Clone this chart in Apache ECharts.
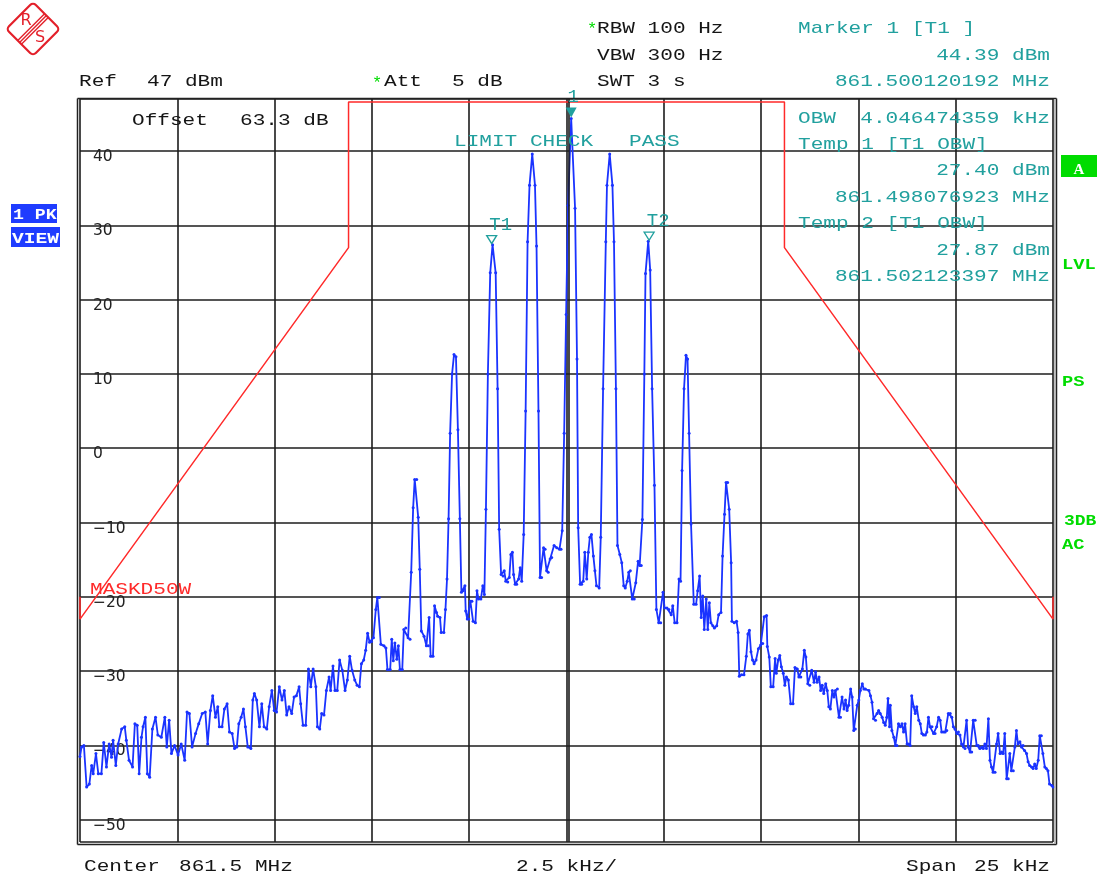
<!DOCTYPE html>
<html>
<head>
<meta charset="utf-8">
<script src="https://cdn.jsdelivr.net/npm/echarts@6/dist/echarts.min.js"></script>
<style>
  html, body { margin: 0; padding: 0; background: #fff; }
  #main { width: 1100px; height: 879px; }
</style>
</head>
<body>
<div id="main"></div>
<script>
// trace readings, [offset from centre in kHz, level in dBm]
const noiseLeft = [
  [-12.5,-41.5],[-12.46,-40.2],[-12.40,-40.0],[-12.33,-45.6],[-12.26,-45.2],[-12.20,-42.7],[-12.16,-43.8],[-12.09,-41.1],
  [-12.03,-43.8],[-11.95,-43.8],[-11.89,-39.6],[-11.82,-42.9],[-11.75,-39.8],[-11.69,-41.6],[-11.65,-39.3],[-11.58,-42.7],
  [-11.52,-39.8],[-11.43,-37.8],[-11.35,-37.5],[-11.31,-39.3],[-11.24,-42.0],[-11.15,-42.9],[-11.09,-37.1],[-11.03,-37.3],
  [-10.98,-43.8],[-10.92,-38.9],[-10.88,-37.5],[-10.82,-36.2],[-10.77,-43.8],[-10.71,-44.3],[-10.64,-37.8],[-10.56,-36.2],
  [-10.50,-38.6],[-10.41,-38.9],[-10.32,-36.2],[-10.27,-40.2],[-10.21,-36.6],[-10.15,-41.1],[-10.07,-40.0],[-9.98,-41.3],
  [-9.90,-39.8],[-9.81,-42.0],[-9.75,-35.5],[-9.69,-35.7],[-9.62,-40.2],[-9.53,-38.4],[-9.45,-37.1],[-9.36,-35.7],
  [-9.28,-35.5],[-9.22,-39.8],[-9.15,-35.3],[-9.09,-33.3],[-9.02,-36.2],[-8.96,-34.8],[-8.92,-37.5],[-8.85,-37.5],
  [-8.79,-35.1],[-8.72,-34.4],[-8.66,-38.2],[-8.59,-38.4],[-8.53,-40.4],[-8.47,-40.2],[-8.42,-37.1],[-8.36,-36.2],
  [-8.30,-35.1],[-8.25,-37.5],[-8.19,-40.2],[-8.11,-40.4],[-8.06,-33.9],[-8.02,-33.0],[-7.96,-33.9],[-7.89,-37.5],
  [-7.83,-34.4],[-7.77,-37.5],[-7.70,-37.8],[-7.64,-34.8],[-7.57,-32.6],[-7.51,-35.3],[-7.45,-35.5],[-7.38,-32.1],
  [-7.31,-33.9],[-7.25,-32.6],[-7.19,-35.9],[-7.13,-34.8],[-7.06,-35.7],[-7.00,-33.5],[-6.94,-33.3],[-6.87,-32.1],
  [-6.83,-34.4],[-6.77,-37.3],[-6.70,-37.3],[-6.63,-29.7],[-6.57,-32.1],[-6.51,-29.7],[-6.44,-32.1],[-6.40,-37.5],
  [-6.34,-37.8],[-6.29,-35.7],[-6.23,-35.9],[-6.17,-32.6],[-6.10,-30.8],[-6.06,-32.6],[-6.00,-29.3],[-5.95,-32.6],
  [-5.89,-32.6],[-5.83,-28.5],[-5.76,-29.9],[-5.69,-32.6],[-5.63,-31.2],[-5.57,-28.0],[-5.51,-29.9],[-5.44,-31.2],
  [-5.38,-31.9],[-5.32,-32.1],[-5.27,-29.0],[-5.21,-28.5],[-5.16,-27.2],[-5.11,-24.9]
];
const carrierBand = [
  [-5.06,-26.1],[-5.01,-26.0],[-4.96,-25.5],[-4.90,-21.7],[-4.86,-20.1],[-4.81,-20.1],[-4.77,-26.4],[-4.69,-26.6],
  [-4.64,-26.9],[-4.60,-29.8],[-4.53,-29.8],[-4.49,-25.7],[-4.45,-28.6],[-4.41,-26.2],[-4.36,-28.4],[-4.32,-26.6],
  [-4.28,-29.8],[-4.22,-29.8],[-4.18,-24.4],[-4.13,-24.2],[-4.07,-25.5],[-4.02,-25.7],[-3.99,-16.7],[-3.94,-8.0],
  [-3.90,-4.2],[-3.85,-4.2],[-3.81,-9.3],[-3.77,-16.3],[-3.73,-24.6],[-3.66,-25.3],[-3.60,-26.6],[-3.55,-26.6],
  [-3.53,-22.8],[-3.49,-28.0],[-3.43,-28.0],[-3.39,-21.2],[-3.34,-22.1],[-3.31,-22.6],[-3.25,-22.8],[-3.22,-24.8],
  [-3.15,-24.8],[-3.11,-21.7],[-3.07,-17.6],[-3.03,-9.5],[-2.99,2.0],[-2.94,10.0],[-2.89,12.6],[-2.84,12.3],
  [-2.79,2.5],[-2.74,-9.5],[-2.70,-19.4],[-2.66,-19.2],[-2.61,-18.5],[-2.59,-21.9],[-2.55,-23.0],[-2.51,-23.0],
  [-2.47,-20.6],[-2.43,-20.6],[-2.40,-23.3],[-2.34,-23.5],[-2.30,-19.2],[-2.26,-20.3],[-2.20,-20.3],[-2.15,-18.5],
  [-2.11,-19.7],[-2.07,-8.2],[-2.02,10.0],[-1.96,23.6],[-1.90,27.4],[-1.82,23.6],[-1.77,8.0],[-1.73,-10.9],
  [-1.68,-17.0],[-1.63,-17.2],[-1.60,-16.5],[-1.56,-17.9],[-1.51,-18.0],[-1.47,-17.4],[-1.43,-14.3],[-1.39,-14.0],
  [-1.36,-17.0],[-1.32,-18.3],[-1.28,-18.3],[-1.23,-17.6],[-1.19,-16.1],[-1.15,-17.9],[-1.10,-11.6],[-1.05,5.0],
  [-1.00,27.8],[-0.95,35.4],[-0.88,39.6],[-0.81,35.4],[-0.77,27.2],[-0.72,5.0],[-0.68,-17.4],[-0.64,-17.4],
  [-0.59,-13.4],[-0.55,-13.6],[-0.51,-16.5],[-0.47,-16.7],[-0.42,-14.9],[-0.38,-14.7],[-0.32,-13.1],[-0.25,-13.4],
  [-0.18,-13.6],[-0.14,-13.6],[-0.11,-11.1],[-0.06,2.0],[-0.01,18.0],[0.04,32.7],[0.12,44.39],[0.22,32.3],
  [0.27,12.0],[0.30,-10.7],[0.35,-18.3],[0.39,-18.3],[0.43,-17.9],[0.47,-14.0],[0.52,-17.6],[0.56,-14.0],
  [0.60,-12.0],[0.64,-11.6],[0.69,-14.5],[0.73,-16.5],[0.77,-18.5],[0.84,-18.8],[0.88,-12.0],[0.94,8.0],
  [1.01,27.8],[1.04,35.4],[1.11,39.6],[1.18,35.4],[1.22,27.8],[1.27,8.0],[1.31,-13.1],[1.37,-14.3],
  [1.42,-15.4],[1.47,-18.5],[1.51,-18.8],[1.56,-17.9],[1.60,-16.7],[1.64,-16.5],[1.69,-20.3],[1.74,-20.3],
  [1.78,-18.1],[1.84,-15.2],[1.88,-15.8],[1.92,-15.8],[1.95,-9.6],[2.00,10.0],[2.03,23.5],[2.10,27.87],
  [2.15,24.0],[2.20,8.0],[2.26,-5.0],[2.31,-21.7],[2.37,-23.5],[2.42,-23.5],[2.48,-19.4],[2.52,-21.5],
  [2.58,-21.5],[2.63,-21.7],[2.69,-22.4],[2.73,-21.2],[2.78,-23.5],[2.84,-23.5],[2.89,-17.6],[2.93,-17.9],
  [2.97,-3.0],[3.02,8.0],[3.07,12.5],[3.11,12.0],[3.15,2.0],[3.20,-10.2],[3.27,-21.0],[3.33,-21.0],
  [3.37,-19.2],[3.42,-17.2],[3.46,-22.8],[3.50,-19.9],[3.54,-24.4],[3.59,-20.3],[3.63,-24.4],[3.67,-20.8],
  [3.71,-23.5],[3.76,-23.9],[3.80,-24.2],[3.86,-23.9],[3.91,-22.4],[3.97,-22.1],[4.01,-14.5],[4.06,-8.9],
  [4.10,-4.6],[4.14,-4.6],[4.18,-8.2],[4.23,-15.4],[4.25,-23.3],[4.31,-23.5],[4.37,-23.3],[4.41,-24.8],
  [4.44,-30.7],[4.50,-30.5],[4.56,-30.5],[4.62,-28.0],[4.66,-25.0]
];
const noiseRight = [
  [4.70,-24.5],[4.74,-27.4],[4.78,-28.5],[4.82,-29.0],[4.87,-28.5],[4.93,-27.0],[4.99,-26.5],[5.04,-26.3],
  [5.08,-22.7],[5.14,-22.5],[5.16,-26.7],[5.21,-28.1],[5.25,-32.1],[5.31,-32.1],[5.36,-28.3],[5.39,-30.3],
  [5.44,-28.5],[5.48,-27.9],[5.52,-29.4],[5.57,-30.3],[5.61,-31.9],[5.65,-30.8],[5.70,-31.2],[5.76,-34.4],
  [5.82,-34.4],[5.87,-29.5],[5.93,-29.7],[5.97,-30.8],[6.02,-30.8],[6.06,-29.7],[6.11,-27.2],[6.15,-28.1],
  [6.20,-31.7],[6.25,-31.9],[6.30,-29.9],[6.36,-31.5],[6.40,-30.1],[6.44,-31.5],[6.49,-30.8],[6.53,-32.6],
  [6.57,-31.9],[6.61,-33.0],[6.66,-31.7],[6.70,-32.6],[6.74,-34.8],[6.78,-35.1],[6.83,-32.6],[6.87,-33.5],
  [6.91,-32.6],[6.96,-32.4],[7.00,-36.2],[7.04,-36.2],[7.08,-33.5],[7.13,-35.1],[7.17,-33.9],[7.21,-35.3],
  [7.25,-34.6],[7.30,-32.4],[7.34,-33.5],[7.38,-38.0],[7.42,-37.8],[7.47,-34.6],[7.51,-33.9],[7.55,-32.6],
  [7.60,-31.7],[7.64,-32.4],[7.68,-32.4],[7.77,-32.6],[7.81,-33.3],[7.85,-34.2],[7.89,-36.4],[7.94,-36.6],
  [7.98,-35.7],[8.02,-35.3],[8.06,-35.7],[8.11,-36.2],[8.15,-36.9],[8.19,-37.3],[8.23,-36.2],[8.26,-33.7],
  [8.30,-37.5],[8.32,-34.6],[8.36,-38.0],[8.41,-38.9],[8.45,-40.0],[8.49,-40.0],[8.53,-37.1],[8.58,-37.5],
  [8.62,-37.1],[8.66,-38.2],[8.70,-37.1],[8.75,-39.8],[8.79,-39.8],[8.83,-40.0],[8.87,-33.3],[8.92,-34.8],
  [8.96,-35.7],[9.00,-34.8],[9.05,-36.6],[9.09,-37.1],[9.13,-38.4],[9.17,-38.6],[9.22,-38.6],[9.26,-38.2],
  [9.30,-36.2],[9.34,-37.5],[9.39,-37.5],[9.43,-38.4],[9.47,-38.4],[9.51,-37.5],[9.56,-36.2],[9.60,-36.6],
  [9.64,-38.2],[9.69,-38.2],[9.73,-38.2],[9.77,-38.0],[9.81,-35.7],[9.86,-35.7],[9.90,-36.2],[9.94,-37.5],
  [9.98,-37.8],[10.03,-38.4],[10.07,-38.2],[10.11,-38.6],[10.15,-39.8],[10.20,-40.2],[10.24,-40.4],[10.28,-36.6],
  [10.32,-40.2],[10.37,-40.9],[10.41,-40.9],[10.45,-36.6],[10.50,-36.6],[10.54,-40.0],[10.58,-40.0],[10.62,-40.4],
  [10.67,-40.2],[10.71,-40.4],[10.75,-39.8],[10.79,-40.4],[10.84,-36.4],[10.88,-42.0],[10.92,-42.9],[10.96,-43.6],
  [11.01,-43.6],[11.05,-39.8],[11.09,-38.4],[11.14,-41.1],[11.18,-40.9],[11.22,-41.1],[11.26,-38.4],[11.31,-44.5],
  [11.35,-44.5],[11.39,-41.1],[11.43,-43.4],[11.48,-43.4],[11.52,-40.2],[11.56,-38.0],[11.60,-39.8],[11.65,-39.5],
  [11.69,-40.2],[11.73,-40.0],[11.77,-40.7],[11.82,-41.1],[11.86,-42.2],[11.90,-42.7],[11.95,-42.9],[11.99,-43.1],
  [12.03,-42.5],[12.07,-43.1],[12.12,-42.0],[12.16,-38.7],[12.20,-38.7],[12.24,-41.1],[12.29,-42.9],[12.33,-43.1],
  [12.37,-43.4],[12.41,-45.2],[12.47,-45.4],[12.5,-45.6]
];

// limit line MASKD50W
const maskFreq = [-12.5, -12.5, -5.6, -5.6, 5.6, 5.6, 12.5, 12.5];
const maskLevel = [-20, -23, 27, 46.6, 46.6, 27, -23, -20];

// markers
const markerName = ['1', 'T1', 'T2'];
const markerFreq = [0.12, -1.923, 2.123];
const markerLevel = [44.39, 27.40, 27.87];

const BLACK = '#151515', TEAL = '#21a09e', GREEN = '#00dc00', RED = '#ff2a2a', BLUE = '#1f3cff', TRACE = '#1a33ff';
const FONT = '17px "Liberation Mono", "DejaVu Sans Mono", monospace';
const SX = 1.24;
const DOWN = 'path://M0,0L10,0L5,10Z';

function txt(s, x, y, color, align, extra) {
  return Object.assign({
    type: 'text', x: x, y: y, scaleX: SX, z: 20, silent: true,
    style: { text: s, fill: color || BLACK, font: FONT, align: align || 'left', verticalAlign: 'middle' }
  }, extra || {});
}
function boldTxt(s, x, y, color, sx, size) {
  return {
    type: 'text', x: x, y: y, scaleX: sx, z: 20, silent: true,
    style: { text: s, fill: color, font: 'bold ' + size + 'px "Liberation Mono"', align: 'left', verticalAlign: 'middle' }
  };
}
function gline(x1, y1, x2, y2, color, w) {
  return { type: 'line', z: 15, silent: true, shape: { x1: x1, y1: y1, x2: x2, y2: y2 },
    style: { stroke: color || '#222', lineWidth: w || 1.5 } };
}

const trace = noiseLeft.concat(carrierBand, noiseRight);
const mask = maskFreq.map((f, i) => [f, maskLevel[i]]);

const markerData = markerName.map((n, i) => ({
  name: n,
  coord: [markerFreq[i], markerLevel[i]],
  symbol: DOWN,
  symbolSize: i === 0 ? [11, 10] : [10, 8],
  symbolOffset: [0, i === 0 ? -6 : -5],
  itemStyle: i === 0 ? { color: TEAL } : { color: '#fff', borderColor: TEAL, borderWidth: 1.3 },
  label: {
    show: true, formatter: n, position: 'top', distance: 1,
    offset: i === 0 ? [2, 0] : [9, 0],
    color: TEAL, fontFamily: '"Liberation Mono", monospace', fontSize: 19
  }
}));

const chart = echarts.init(document.getElementById('main'));
const option = {
  animation: false,
  grid: { left: 80, top: 99, width: 973, height: 743, show: false },
  xAxis: {
    type: 'value', min: -12.5, max: 12.5, interval: 2.5,
    axisLine: { show: false }, axisTick: { show: false }, axisLabel: { show: false },
    splitLine: { show: true, lineStyle: { color: '#1c1c1c', width: 1.6 } }
  },
  yAxis: {
    type: 'value', min: -53, max: 47, splitNumber: 10,
    axisLine: { show: false }, axisTick: { show: false },
    splitLine: { show: true, lineStyle: { color: '#1c1c1c', width: 1.6 } },
    axisLabel: {
      inside: true, margin: 13, verticalAlign: 'top', lineHeight: 12,
      color: '#222', fontFamily: '"DejaVu Sans"', fontSize: 15.5,
      showMinLabel: false, showMaxLabel: false,
      formatter: v => String(v).replace('-', '\u2212')
    }
  },
  series: [
    {
      type: 'line', data: mask, symbol: 'none', silent: true, z: 3,
      lineStyle: { color: RED, width: 1.5 }
    },
    {
      type: 'line', data: trace, z: 4, silent: true,
      symbol: 'circle', symbolSize: 3, showSymbol: true,
      itemStyle: { color: TRACE },
      lineStyle: { color: TRACE, width: 1.8 },
      markLine: {
        silent: true, symbol: 'none', label: { show: false },
        lineStyle: { color: '#1c1c1c', width: 1.6, type: 'solid' },
        data: [{ xAxis: 0.067 }]
      },
      markPoint: { silent: true, data: markerData }
    }
  ],
  graphic: [
    // frame
    gline(77.5, 98.6, 1056.5, 98.6),
    gline(77.5, 98.6, 77.5, 844.5),
    gline(77.5, 844.5, 1056.5, 844.5),
    gline(1056.5, 98.6, 1056.5, 844.5),
    gline(1055, 99, 1055, 844, '#aaa', 1.5),

    // R&S logo
    {
      type: 'group', x: 33, y: 29, rotation: Math.PI / 4, silent: true,
      children: [
        { type: 'rect', shape: { x: -19, y: -19, width: 38, height: 38, r: 4 },
          style: { fill: '#fff', stroke: '#e3202a', lineWidth: 2.2 } },
        { type: 'line', shape: { x1: -19, y1: -2.6, x2: 19, y2: -2.6 }, style: { stroke: '#e3202a', lineWidth: 1.4 } },
        { type: 'line', shape: { x1: -19, y1: 0, x2: 19, y2: 0 }, style: { stroke: '#e3202a', lineWidth: 1.4 } },
        { type: 'line', shape: { x1: -19, y1: 2.6, x2: 19, y2: 2.6 }, style: { stroke: '#e3202a', lineWidth: 1.4 } }
      ]
    },
    { type: 'text', x: 26, y: 21, silent: true, style: { text: 'R', fill: '#e3202a', font: '16px "DejaVu Sans"', align: 'center', verticalAlign: 'middle' } },
    { type: 'text', x: 40, y: 37.5, silent: true, style: { text: 'S', fill: '#e3202a', font: '16px "DejaVu Sans"', align: 'center', verticalAlign: 'middle' } },

    // header
    txt('*', 587, 29, GREEN, 'left', { scaleX: 1 }),
    txt('RBW 100 Hz', 597, 28),
    txt('VBW 300 Hz', 597, 55.5),
    txt('SWT 3 s', 597, 81.5),
    txt('Ref', 79, 81.5),
    txt('47 dBm', 147, 81.5),
    txt('*', 372, 83, GREEN, 'left', { scaleX: 1 }),
    txt('Att', 384, 81.5),
    txt('5 dB', 452, 81.5),
    txt('Marker 1 [T1 ]', 798, 28.5, TEAL),
    txt('44.39 dBm', 1050, 55.5, TEAL, 'right'),
    txt('861.500120192 MHz', 1050, 81.5, TEAL, 'right'),

    // in-plot annotations
    txt('Offset', 132, 120),
    txt('63.3 dB', 240, 120),
    txt('OBW', 798, 118, TEAL),
    txt('4.046474359 kHz', 1050, 118, TEAL, 'right'),
    txt('Temp 1 [T1 OBW]', 798, 144, TEAL),
    txt('27.40 dBm', 1050, 170.5, TEAL, 'right'),
    txt('861.498076923 MHz', 1050, 197.5, TEAL, 'right'),
    txt('Temp 2 [T1 OBW]', 798, 223, TEAL),
    txt('27.87 dBm', 1050, 250.5, TEAL, 'right'),
    txt('861.502123397 MHz', 1050, 276.5, TEAL, 'right'),
    txt('LIMIT CHECK', 454, 141.5, TEAL),
    txt('PASS', 629, 141.5, TEAL),
    txt('MASKD50W', 90, 589, RED),

    // footer
    txt('Center', 84, 866.5),
    txt('861.5 MHz', 179, 866.5),
    txt('2.5 kHz/', 516, 866.5),
    txt('Span', 906, 866.5),
    txt('25 kHz', 1050, 866.5, BLACK, 'right'),

    // left trace badge
    { type: 'rect', silent: true, shape: { x: 11, y: 204, width: 46, height: 19 }, style: { fill: BLUE } },
    { type: 'rect', silent: true, shape: { x: 11, y: 227, width: 49, height: 20 }, style: { fill: BLUE } },
    boldTxt('1 PK', 13, 215, '#fff', 1.3, 14),
    boldTxt('VIEW', 12, 239, '#fff', 1.4, 14),

    // right status column
    { type: 'rect', silent: true, shape: { x: 1061, y: 155, width: 36, height: 22 }, style: { fill: GREEN } },
    { type: 'text', x: 1079, y: 170, silent: true, style: { text: 'A', fill: '#fff', font: 'bold 15px "Liberation Serif"', align: 'center', verticalAlign: 'middle' } },
    boldTxt('LVL', 1062, 265, GREEN, 1.25, 15),
    boldTxt('PS', 1062, 382, GREEN, 1.25, 15),
    boldTxt('3DB', 1064, 521, GREEN, 1.2, 15),
    boldTxt('AC', 1062, 545, GREEN, 1.25, 15)
  ]
};
chart.setOption(option);
</script>
</body>
</html>
